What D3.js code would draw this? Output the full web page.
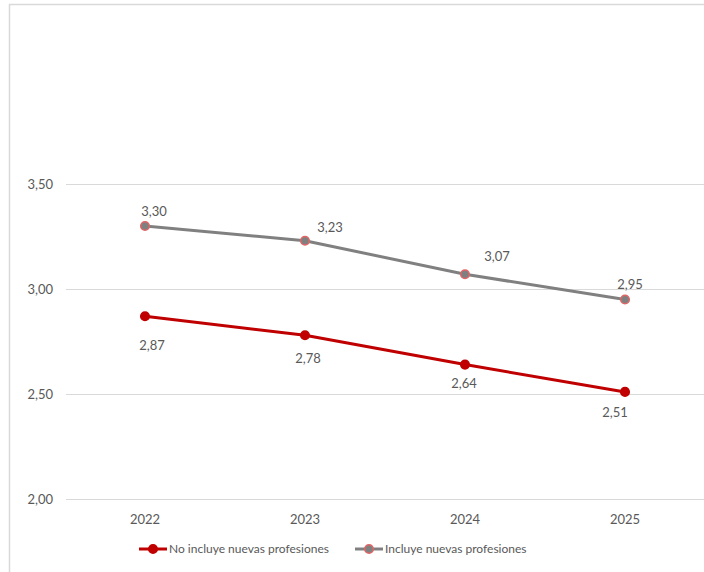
<!DOCTYPE html>
<html><head><meta charset="utf-8">
<script src="https://cdn.jsdelivr.net/npm/d3@7"></script>
<style>body{margin:0;background:#fff}svg{display:block}text{font-family:Lato,"Open Sans",sans-serif}</style>
</head><body><svg id="c" width="704" height="572"></svg>
<script>
const years = ["2022","2023","2024","2025"];
const noIncluye = [2.87, 2.78, 2.64, 2.51];
const incluye = [3.30, 3.23, 3.07, 2.95];
const yTicks = [2.0, 2.5, 3.0, 3.5];
const seriesNames = ["No incluye nuevas profesiones", "Incluye nuevas profesiones"];

const svg = d3.select("#c");
const fmt = v => d3.format(".2f")(v).replace(".", ",");
const textColor = "#595959";

// border
svg.append("path").attr("d","M9.5,572 L9.5,4.5 L704,4.5").attr("fill","none").attr("stroke","#d9d9d9").attr("stroke-width",1.5);

const x = d3.scaleBand().domain(years).range([65, 705]);
const y = d3.scaleLinear().domain([2.0, 3.5]).range([499, 184]);

// gridlines
svg.append("g").selectAll("line").data(yTicks).join("line")
  .attr("x1", 66).attr("x2", 704)
  .attr("y1", d => Math.round(y(d)) + 0.5).attr("y2", d => Math.round(y(d)) + 0.5)
  .attr("stroke", "#d9d9d9").attr("stroke-width", 1);

// y labels
svg.append("g").selectAll("text").data(yTicks).join("text")
  .attr("x", 53).attr("y", d => y(d)).attr("dy", "0.35em")
  .attr("text-anchor", "end").attr("font-size", 13).attr("fill", textColor)
  .text(fmt);

// x labels
svg.append("g").selectAll("text").data(years).join("text")
  .attr("x", d => x(d) + x.bandwidth()/2).attr("y", 519).attr("dy", "0.35em")
  .attr("text-anchor", "middle").attr("font-size", 13).attr("fill", textColor)
  .text(d => d);

const cx = d => x(d) + x.bandwidth()/2;
const line = d3.line().x((d,i) => cx(years[i])).y(d => y(d));

const series = [
  {name: seriesNames[0], values: noIncluye, color: "#C00000", fill: "#C00000", stroke: "#C00000",
   off: [[7,29],[3,23],[-1,19],[-10,21]]},
  {name: seriesNames[1], values: incluye, color: "#808080", fill: "#808080", stroke: "#E06666",
   off: [[9,-15],[25,-13],[32,-18],[5,-15]]}
];

series.forEach(s => {
  svg.append("path").datum(s.values).attr("d", line)
    .attr("fill","none").attr("stroke", s.color).attr("stroke-width", 3).attr("stroke-linejoin","round");
  svg.append("g").selectAll("circle").data(s.values).join("circle")
    .attr("cx", (d,i) => cx(years[i])).attr("cy", d => y(d)).attr("r", 4.3)
    .attr("fill", s.fill).attr("stroke", s.stroke).attr("stroke-width", 1.5);
  svg.append("g").selectAll("text").data(s.values).join("text")
    .attr("x", (d,i) => cx(years[i]) + s.off[i][0]).attr("y", (d,i) => y(d) + s.off[i][1])
    .attr("dy","0.35em").attr("text-anchor","middle").attr("font-size", 13).attr("fill", textColor)
    .text(fmt);
});

// legend
const legend = [
  {s: series[0], x0: 139, tx: 169},
  {s: series[1], x0: 355, tx: 385}
];
const ly = 549;
legend.forEach(l => {
  svg.append("line").attr("x1", l.x0).attr("x2", l.x0 + 28).attr("y1", ly).attr("y2", ly)
    .attr("stroke", l.s.color).attr("stroke-width", 3);
  svg.append("circle").attr("cx", l.x0 + 14).attr("cy", ly).attr("r", 4.3)
    .attr("fill", l.s.fill).attr("stroke", l.s.stroke).attr("stroke-width", 1.5);
  svg.append("text").attr("x", l.tx).attr("y", ly).attr("dy","0.35em")
    .attr("font-size", 12).attr("fill", textColor).text(l.s.name);
});
</script></body></html>
